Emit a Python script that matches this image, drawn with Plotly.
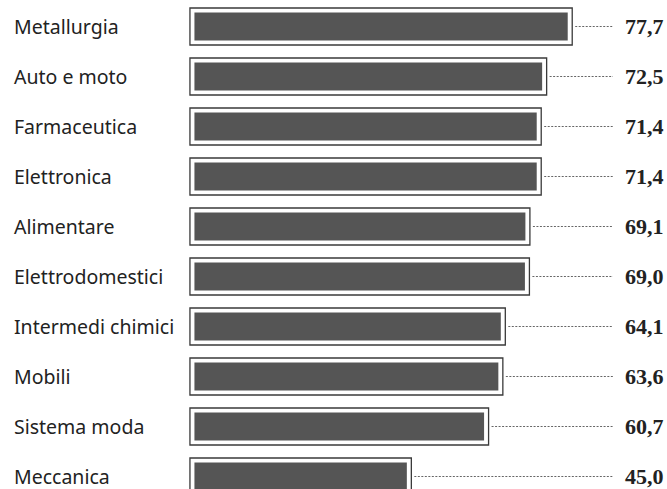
import plotly.graph_objects as go

categories = ["Metallurgia", "Auto e moto", "Farmaceutica", "Elettronica", "Alimentare",
              "Elettrodomestici", "Intermedi chimici", "Mobili", "Sistema moda", "Meccanica"]
values = [77.7, 72.5, 71.4, 71.4, 69.1, 69.0, 64.1, 63.6, 60.7, 45.0]
value_labels = ["77,7", "72,5", "71,4", "71,4", "69,1", "69,0", "64,1", "63,6", "60,7", "45,0"]

W, H = 667, 489
PX_PER_UNIT = 4.92
DOM_LEFT_PX = 186
X_MIN = -0.8
X_MAX = X_MIN + (W - DOM_LEFT_PX) / PX_PER_UNIT
ZERO_PX = DOM_LEFT_PX - X_MIN * PX_PER_UNIT
LEADER_END = (613 - ZERO_PX) / PX_PER_UNIT
LEADER_GAP = 3 / PX_PER_UNIT

fig = go.Figure()

# inner dark fill (white stroke creates the inset gap)
fig.add_trace(go.Bar(
    y=categories, x=values, orientation="h", width=0.74,
    marker=dict(color="#555555", line=dict(color="white", width=9)),
    hoverinfo="skip", showlegend=False,
))
# outer outline box
fig.add_trace(go.Bar(
    y=categories, x=values, orientation="h", width=0.74,
    marker=dict(color="rgba(0,0,0,0)", line=dict(color="#3a3a3a", width=1.3)),
    hoverinfo="skip", showlegend=False,
))

# dotted leader lines
lx, ly = [], []
for c, v in zip(categories, values):
    lx += [v + LEADER_GAP, LEADER_END, None]
    ly += [c, c, None]
fig.add_trace(go.Scatter(
    x=lx, y=ly, mode="lines",
    line=dict(color="#666666", width=1, dash="2px,1.5px"),
    hoverinfo="skip", showlegend=False,
))

annotations = []
for c, lab in zip(categories, value_labels):
    annotations.append(dict(
        xref="paper", yref="y", x=666 / W, y=c, xanchor="right", yanchor="middle",
        text=lab, showarrow=False,
        font=dict(family="Liberation Serif", size=22, color="#222222", weight="bold"),
    ))
for c in categories:
    annotations.append(dict(
        xref="paper", yref="y", x=12 / W, y=c, xanchor="left", yanchor="middle",
        text=c, showarrow=False,
        font=dict(family="Noto Sans", size=19.5, color="#222222"),
    ))

fig.update_layout(
    width=W, height=H,
    margin=dict(l=0, r=0, t=0, b=0),
    paper_bgcolor="white", plot_bgcolor="white",
    barmode="overlay",
    xaxis=dict(domain=[DOM_LEFT_PX / W, 1], range=[X_MIN, X_MAX], visible=False,
               showgrid=False, zeroline=False),
    yaxis=dict(categoryorder="array", categoryarray=categories,
               range=[9.25, -0.53], visible=False, showgrid=False, zeroline=False),
    annotations=annotations,
)

fig.write_html("out.html")
